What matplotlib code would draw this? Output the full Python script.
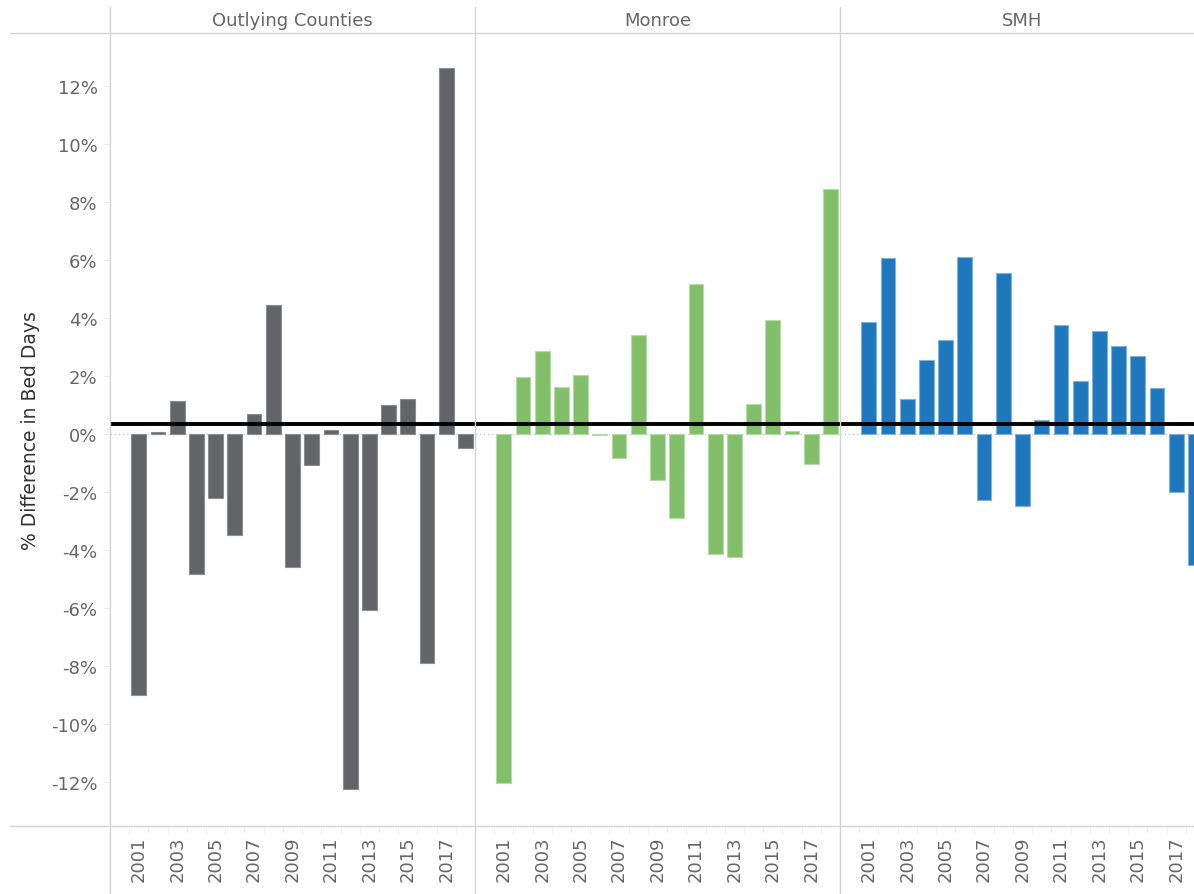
import numpy as np
import matplotlib.pyplot as plt
from matplotlib.lines import Line2D

plt.rcParams['font.family'] = ['DejaVu Sans']

years = list(range(2000, 2019))
panels = ['Outlying Counties', 'Monroe', 'SMH']

# % difference in bed days (2000 has no prior year -> no bar)
outlying = [np.nan, -9.00, 0.06, 1.13, -4.84, -2.22, -3.49, 0.69, 4.46, -4.59,
            -1.07, 0.13, -12.25, -6.08, 0.99, 1.20, -7.90, 12.62, -0.49]
monroe = [np.nan, -12.05, 1.96, 2.85, 1.62, 2.05, -0.03, -0.84, 3.42, -1.60,
          -2.91, 5.17, -4.13, -4.25, 1.02, 3.94, 0.09, -1.03, 8.44]
smh = [np.nan, 3.87, 6.06, 1.20, 2.55, 3.23, 6.11, -2.28, 5.56, -2.48,
       0.48, 3.75, 1.84, 3.54, 3.02, 2.68, 1.58, -2.00, -4.50]
series = [outlying, monroe, smh]
colors = ['#636466', '#82bf6a', '#1f77be']
edges = ['#8c8d8f', '#b5dba6', '#7fb2dc']
ref_line = 0.355

W, H = 1194, 895
fig = plt.figure(figsize=(W / 100, H / 100), dpi=100)

grid_col = '#d4d4d4'
text_col = '#666666'
panel_w = 365
top_px, bot_px = 35, 827
y_lo = -(bot_px - 435) / 29.0
y_hi = (435 - top_px) / 29.0

for i, (name, vals) in enumerate(zip(panels, series)):
    left = 110 + i * panel_w
    ax = fig.add_axes([left / W, (H - bot_px) / H, panel_w / W, (bot_px - top_px) / H])
    v = np.array(vals, dtype=float)
    ax.bar(years, v, width=0.77, color=colors[i], edgecolor=edges[i], linewidth=0.8, zorder=2)
    ax.axhline(0, color='#c8c8c8', lw=1.0, ls=(0, (1, 2)), zorder=1)
    ax.axhline(ref_line, color='black', lw=2.8, zorder=3)
    ax.set_xlim(1999.5, 2018.5)
    ax.set_ylim(y_lo, y_hi)
    for s in ax.spines.values():
        s.set_visible(False)
    ax.set_xticks(range(2001, 2018, 2))
    ax.set_xticklabels([str(y) for y in range(2001, 2018, 2)], rotation=90,
                       fontsize=13, color=text_col)
    ax.set_xticks(np.arange(2000.5, 2018.5, 1), minor=True)
    ax.tick_params(axis='x', which='major', length=0, pad=7)
    ax.tick_params(axis='x', which='minor', length=5, color='#ececec')
    ax.set_yticks(range(-12, 13, 2))
    if i == 0:
        ax.set_yticklabels(['%d%%' % t for t in range(-12, 13, 2)], fontsize=13, color=text_col)
        ax.tick_params(axis='y', length=5, color='#ececec', pad=4)
        ax.set_ylabel('% Difference in Bed Days', fontsize=13.5, color='#333333', labelpad=8)
    else:
        ax.tick_params(axis='y', length=0, labelleft=False)
    fig.text((left + panel_w / 2) / W, 1 - 21 / H, name, ha='center', va='center',
             fontsize=13, color=text_col)

# frame lines of the table layout
for x in [110, 475, 840]:
    fig.add_artist(Line2D([x / W, x / W], [0, 1 - 8 / H], color=grid_col, lw=1))
for y in [34, 827]:
    fig.add_artist(Line2D([10 / W, 1], [1 - y / H, 1 - y / H], color=grid_col, lw=1))

plt.savefig('out.png', dpi=100)
